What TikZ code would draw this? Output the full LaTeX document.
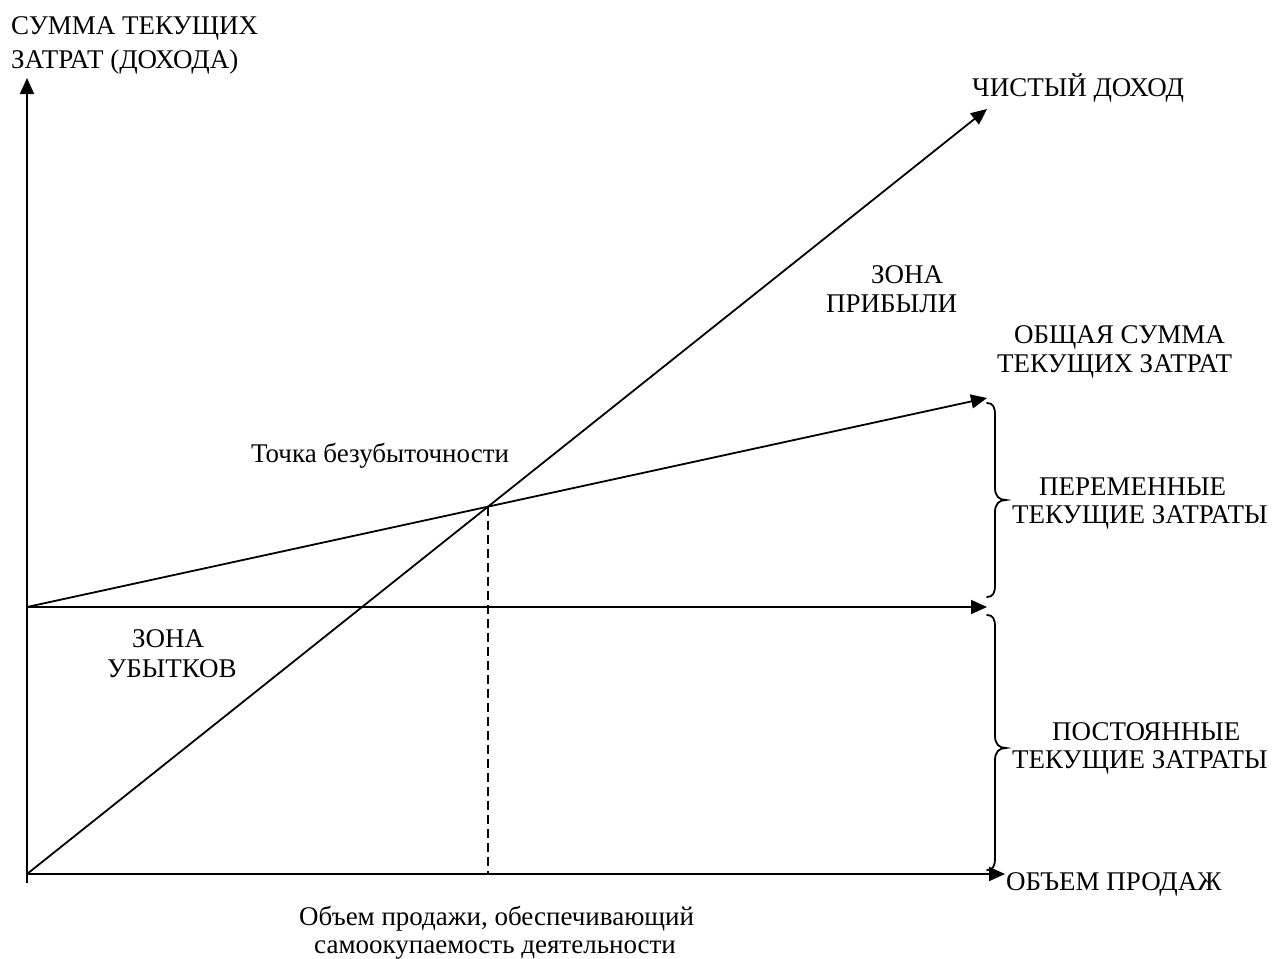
\documentclass[tikz,border=0pt]{standalone}
\usepackage{fontspec}
\setmainfont{Liberation Serif}
\usetikzlibrary{arrows.meta}
\begin{document}
\begin{tikzpicture}[x=1pt,y=-1pt,
  lbl/.style={anchor=base west,inner sep=0pt,font=\fontsize{27}{31}\selectfont},
  ln/.style={line width=1.8pt},
  arr/.style={ln,-{Triangle[length=16pt,width=14pt]}},
  brace/.style={line width=1.8pt,line cap=round},
  dsh/.style={line width=1.5pt,dash pattern=on 9pt off 5pt}]
\useasboundingbox (0,0) rectangle (1276,958);
% key points
\coordinate (O) at (27,874);
\coordinate (Ob) at (27,883);
\coordinate (Ytop) at (27,78);
\coordinate (Xend) at (1005,874);
\coordinate (F0) at (27,607);
\coordinate (F1) at (987,607);
\coordinate (T1) at (987,398);
\coordinate (R1) at (987,109);
\coordinate (BE) at (488,506.6);
\coordinate (BEx) at (488,874);
% axes
\draw[arr] (Ob) -- (Ytop);
\draw[arr] (O) -- (Xend);
% lines
\draw[arr] (F0) -- (F1);
\draw[arr] (F0) -- (T1);
\draw[arr] (O) -- (R1);
\draw[dsh] (BE) -- (BEx);
% braces
\draw[brace] (987,403) .. controls (993,403) and (995,407) .. (995,415) -- (995,488)
  .. controls (995,496) and (999,500) .. (1006,500)
  .. controls (999,500) and (995,504) .. (995,512) -- (995,585)
  .. controls (995,593) and (993,597) .. (987,597);
\draw[brace] (987,615) .. controls (993,615) and (995,619) .. (995,627) -- (995,736)
  .. controls (995,744) and (999,748) .. (1006,748)
  .. controls (999,748) and (995,752) .. (995,760) -- (995,858)
  .. controls (995,866) and (993,870) .. (987,870);
% labels
\node[lbl] (ya1) at (11,35) {СУММА ТЕКУЩИХ};
\node[lbl] (ya2) at (11,68) {ЗАТРАТ (ДОХОДА)};
\node[lbl] (rev) at (972,96) {ЧИСТЫЙ ДОХОД};
\node[lbl] (zp1) at (871,283) {ЗОНА};
\node[lbl] (zp2) at (826,312) {ПРИБЫЛИ};
\node[lbl] (tc1) at (1014,343) {ОБЩАЯ СУММА};
\node[lbl] (tc2) at (997,372) {ТЕКУЩИХ ЗАТРАТ};
\node[lbl] (bep) at (251,462) {Точка безубыточности};
\node[lbl] (vc1) at (1039,495) {ПЕРЕМЕННЫЕ};
\node[lbl] (vc2) at (1012,523) {ТЕКУЩИЕ ЗАТРАТЫ};
\node[lbl] (zl1) at (132,647) {ЗОНА};
\node[lbl] (zl2) at (107,677) {УБЫТКОВ};
\node[lbl] (fc1) at (1052,740) {ПОСТОЯННЫЕ};
\node[lbl] (fc2) at (1012,768) {ТЕКУЩИЕ ЗАТРАТЫ};
\node[lbl] (xl) at (1006,890) {ОБЪЕМ ПРОДАЖ};
\node[lbl] (bv1) at (299,925) {Объем продажи, обеспечивающий};
\node[lbl] (bv2) at (314,953) {самоокупаемость деятельности};
\end{tikzpicture}
\end{document}
